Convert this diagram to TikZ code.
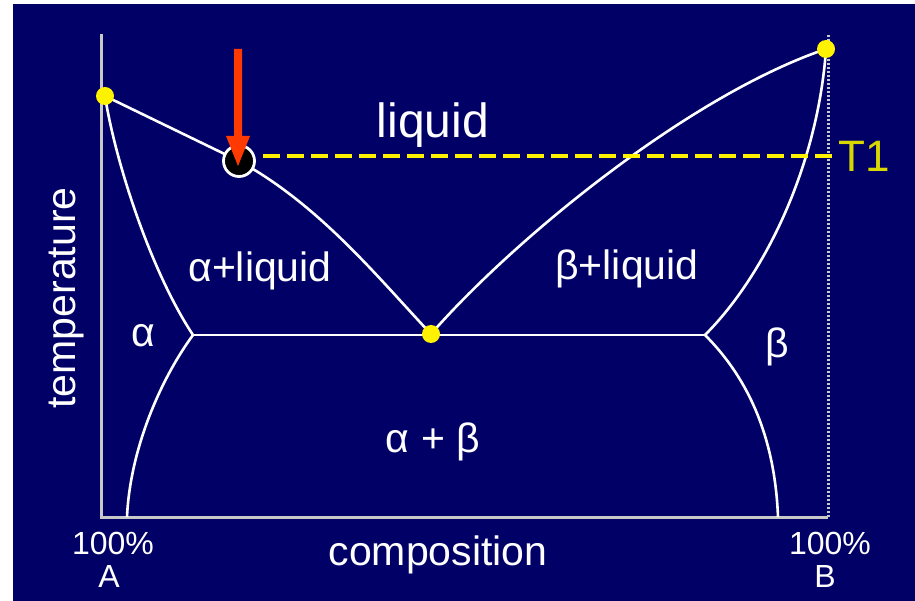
\documentclass[tikz,border=0pt]{standalone}
\usepackage{fontspec}
\setmainfont{Liberation Sans}
\definecolor{navy}{HTML}{000066}
\definecolor{axisgray}{HTML}{C8C8C8}
\definecolor{arrowred}{HTML}{FF3A00}
\definecolor{tyellow}{HTML}{D8D800}
\begin{document}
\begin{tikzpicture}[x=1pt,y=-1pt,
  lbl/.style={text=white,inner sep=0pt,anchor=base},
  curve/.style={white,line width=2.6pt},
  ydot/.style={circle,fill=yellow,inner sep=0pt,minimum size=18pt},
  big/.style={font=\fontsize{48}{50}\selectfont},
  mid/.style={font=\fontsize{41}{43}\selectfont},
  small/.style={font=\fontsize{32}{34}\selectfont}]
\useasboundingbox (0,0) rectangle (915,601);
\fill[white] (0,0) rectangle (915,601);
\fill[navy] (13,4) rectangle (915,601);
% axes
\coordinate (yhi) at (101,34);
\coordinate (org) at (101,517);
\coordinate (xr) at (828,517);
\coordinate (yrhi) at (828,34);
\draw[axisgray,line width=3pt] (yhi) -- (org) -- (xr);
\draw[axisgray,line width=3pt,dash pattern=on 2pt off 2pt] (xr) -- (yrhi);
% key points
\coordinate (mA) at (105,96);
\coordinate (mB) at (826,49);
\coordinate (eu) at (431,334);
\coordinate (jl) at (193,335);
\coordinate (jr) at (705,335);
\coordinate (bl) at (127,517);
\coordinate (br) at (778,517);
\coordinate (cc) at (239,161);
% phase boundaries
\draw[curve] (mA) -- (cc) .. controls (320,205) and (380,280) .. (eu);
\draw[curve] (eu) .. controls (515,238) and (690,95) .. (mB);
\draw[curve] (mA) .. controls (115,160) and (150,270) .. (jl);
\draw[curve] (jl) .. controls (160,380) and (130,450) .. (bl);
\draw[curve] (mB) .. controls (818,165) and (765,275) .. (jr);
\draw[curve] (jr) .. controls (750,380) and (775,440) .. (br);
\draw[curve] (jl) -- (jr);
% T1 line
\coordinate (d1) at (263,156);
\coordinate (d2) at (832,156);
\draw[yellow,line width=4pt,dash pattern=on 17pt off 7pt] (d1) -- (d2);
% points
\node[ydot] (pA) at (mA) {};
\node[ydot] (pB) at (mB) {};
\node[ydot] (pE) at (eu) {};
\node[circle,fill=black,draw=white,line width=2.8pt,minimum size=31pt,inner sep=0pt] (cir) at (cc) {};
% red arrow
\fill[arrowred] (234,49) -- (242,49) -- (242,136) -- (250,136) -- (238,166) -- (226,136) -- (234,136) -- cycle;
% labels
\node[lbl,big] (liq) at (433,138) {liquid};
\node[lbl,mid] (al) at (260,282) {α+liquid};
\node[lbl,mid] (bl2) at (627,280) {β+liquid};
\node[lbl,mid] (alpha) at (143,346) {α};
\node[lbl,mid] (beta) at (777,357) {β};
\node[lbl,mid] (ab) at (433,452) {α + β};
\node[lbl,mid,rotate=90] (temp) at (75,298) {temperature};
\node[lbl,mid] (comp) at (438,565) {composition};
\node[lbl,small] (pa) at (113,554) {100\%};
\node[lbl,small] (la) at (109,587) {A};
\node[lbl,small] (pb) at (830,554) {100\%};
\node[lbl,small] (lb) at (825,587) {B};
\node[inner sep=0pt,anchor=base west,text=tyellow,font=\fontsize{44}{46}\selectfont] (t1) at (838,172) {T1};
\end{tikzpicture}
\end{document}
